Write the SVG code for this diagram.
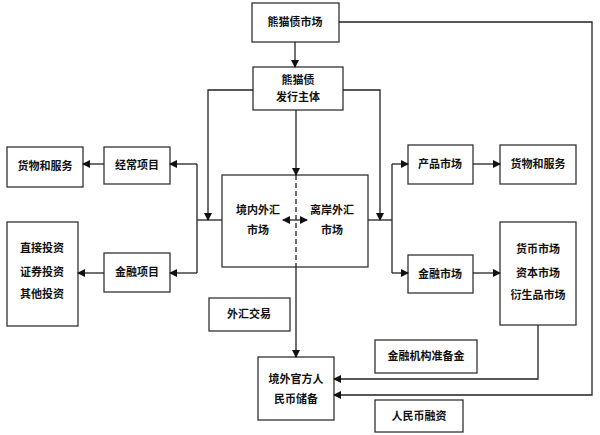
<svg xmlns="http://www.w3.org/2000/svg" width="600" height="435" viewBox="0 0 600 435">
<style>
rect{fill:#fff;stroke:#333;stroke-width:1.3}
text{font-family:"Noto Sans CJK SC",sans-serif;font-size:11px;font-weight:bold;text-anchor:middle;fill:#111}
.c path{fill:none;stroke:#222;stroke-width:1.3}
</style>
<defs><marker id="a" markerWidth="8" markerHeight="8" refX="7" refY="4" orient="auto-start-reverse" markerUnits="userSpaceOnUse"><path d="M0,0L8,4L0,8z" fill="#111"/></marker></defs>
<rect width="600" height="435" style="fill:#fff;stroke:none"/>
<g id="n1"><rect x="252" y="3" width="87" height="39"/><text x="295" y="26">熊猫债市场</text></g>
<g id="n2"><rect x="253" y="67" width="90" height="43"/><text x="298" y="84">熊猫债</text><text x="298" y="101">发行主体</text></g>
<g id="n3"><rect x="222" y="175" width="146" height="92"/><text x="258" y="214">境内外汇</text><text x="258" y="234">市场</text><text x="332" y="214">离岸外汇</text><text x="332" y="234">市场</text></g>
<g id="n4"><rect x="7" y="147" width="76" height="40"/><text x="45" y="170">货物和服务</text></g>
<g id="n5"><rect x="104" y="147" width="66" height="37"/><text x="137" y="169">经常项目</text></g>
<g id="n6"><rect x="7" y="222" width="71" height="104"/><text x="42" y="252">直接投资</text><text x="42" y="276">证券投资</text><text x="42" y="298">其他投资</text></g>
<g id="n7"><rect x="104" y="253" width="66" height="39"/><text x="137" y="276">金融项目</text></g>
<g id="n8"><rect x="408" y="145" width="65" height="39"/><text x="440" y="168">产品市场</text></g>
<g id="n9"><rect x="500" y="145" width="76" height="39"/><text x="538" y="168">货物和服务</text></g>
<g id="n10"><rect x="408" y="255" width="65" height="38"/><text x="440" y="278">金融市场</text></g>
<g id="n11"><rect x="500" y="222" width="76" height="103"/><text x="538" y="253">货币市场</text><text x="538" y="277">资本市场</text><text x="538" y="299">衍生品市场</text></g>
<g id="n12"><rect x="209" y="298" width="81" height="33"/><text x="249" y="318">外汇交易</text></g>
<g id="n13"><rect x="375" y="340" width="102" height="33"/><text x="426" y="360">金融机构准备金</text></g>
<g id="n14"><rect x="258" y="357" width="76" height="63"/><text x="296" y="383">境外官方人</text><text x="296" y="403">民币储备</text></g>
<g id="n15"><rect x="375" y="400" width="88" height="32"/><text x="419" y="420">人民币融资</text></g>
<g class="c">
<path d="M295,42V67" marker-end="url(#a)"/>
<path d="M296,110V175" marker-end="url(#a)"/>
<path d="M296,175V267" stroke-dasharray="5,3"/>
<path d="M283,220H307" marker-start="url(#a)" marker-end="url(#a)"/>
<path d="M296,267V357" marker-end="url(#a)"/>
<path d="M253,90H208V220" marker-end="url(#a)"/>
<path d="M343,90H380V220" marker-end="url(#a)"/>
<path d="M222,220H197"/>
<path d="M197,164V273"/>
<path d="M197,164H170" marker-end="url(#a)"/>
<path d="M197,273H170" marker-end="url(#a)"/>
<path d="M104,164H83" marker-end="url(#a)"/>
<path d="M104,273H78" marker-end="url(#a)"/>
<path d="M368,220H392"/>
<path d="M392,164V273"/>
<path d="M392,164H408" marker-end="url(#a)"/>
<path d="M392,273H408" marker-end="url(#a)"/>
<path d="M473,164H500" marker-end="url(#a)"/>
<path d="M473,273H500" marker-end="url(#a)"/>
<path d="M538,325V379H334" marker-end="url(#a)"/>
<path d="M339,22H592V395H334" marker-end="url(#a)"/>
</g>
</svg>
